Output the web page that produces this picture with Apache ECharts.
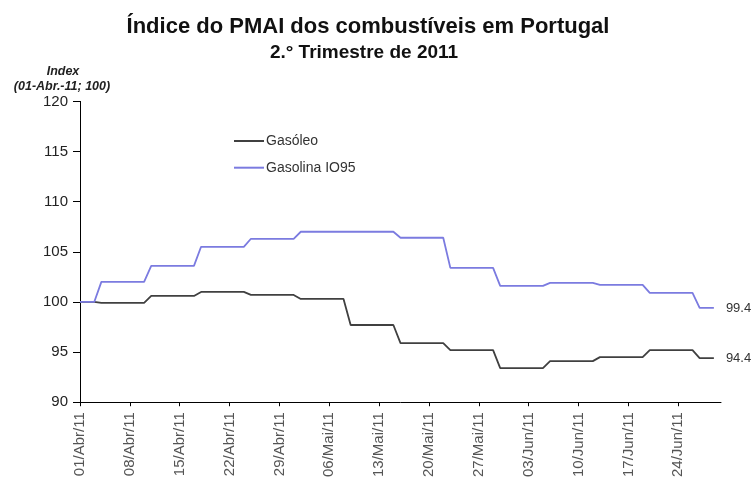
<!DOCTYPE html>
<html>
<head>
<meta charset="utf-8">
<script src="https://cdn.jsdelivr.net/npm/echarts@6/dist/echarts.min.js"></script>
<style>
html,body{margin:0;padding:0;background:#fff;}
#c{width:752px;height:480px;}
</style>
</head>
<body>
<div id="c"></div>
<script>
// Daily categories, 01/Abr/11 .. 30/Jun/11
const categories = [
 "01/Abr/11","02/Abr/11","03/Abr/11","04/Abr/11","05/Abr/11","06/Abr/11","07/Abr/11","08/Abr/11","09/Abr/11","10/Abr/11",
 "11/Abr/11","12/Abr/11","13/Abr/11","14/Abr/11","15/Abr/11","16/Abr/11","17/Abr/11","18/Abr/11","19/Abr/11","20/Abr/11",
 "21/Abr/11","22/Abr/11","23/Abr/11","24/Abr/11","25/Abr/11","26/Abr/11","27/Abr/11","28/Abr/11","29/Abr/11","30/Abr/11",
 "01/Mai/11","02/Mai/11","03/Mai/11","04/Mai/11","05/Mai/11","06/Mai/11","07/Mai/11","08/Mai/11","09/Mai/11","10/Mai/11",
 "11/Mai/11","12/Mai/11","13/Mai/11","14/Mai/11","15/Mai/11","16/Mai/11","17/Mai/11","18/Mai/11","19/Mai/11","20/Mai/11",
 "21/Mai/11","22/Mai/11","23/Mai/11","24/Mai/11","25/Mai/11","26/Mai/11","27/Mai/11","28/Mai/11","29/Mai/11","30/Mai/11",
 "31/Mai/11",
 "01/Jun/11","02/Jun/11","03/Jun/11","04/Jun/11","05/Jun/11","06/Jun/11","07/Jun/11","08/Jun/11","09/Jun/11","10/Jun/11",
 "11/Jun/11","12/Jun/11","13/Jun/11","14/Jun/11","15/Jun/11","16/Jun/11","17/Jun/11","18/Jun/11","19/Jun/11","20/Jun/11",
 "21/Jun/11","22/Jun/11","23/Jun/11","24/Jun/11","25/Jun/11","26/Jun/11","27/Jun/11","28/Jun/11","29/Jun/11","30/Jun/11"
];

// Gasóleo daily index (01/Abr .. 29/Jun)
const gasoleo = [
 100,100,100,
 99.9,99.9,99.9,99.9,99.9,99.9,99.9,
 100.6,100.6,100.6,100.6,100.6,100.6,100.6,
 101.0,101.0,101.0,101.0,101.0,101.0,101.0,
 100.7,100.7,100.7,100.7,100.7,100.7,100.7,
 100.3,100.3,100.3,100.3,100.3,100.3,100.3,
 97.7,97.7,97.7,97.7,97.7,97.7,97.7,
 95.9,95.9,95.9,95.9,95.9,95.9,95.9,
 95.2,95.2,95.2,95.2,95.2,95.2,95.2,
 93.4,93.4,93.4,93.4,93.4,93.4,93.4,
 94.1,94.1,94.1,94.1,94.1,94.1,94.1,
 94.5,94.5,94.5,94.5,94.5,94.5,94.5,
 95.2,95.2,95.2,95.2,95.2,95.2,95.2,
 94.4,94.4,94.4
];

// Gasolina IO95 daily index (01/Abr .. 29/Jun)
const gasolina = [
 100,100,100,
 102.0,102.0,102.0,102.0,102.0,102.0,102.0,
 103.6,103.6,103.6,103.6,103.6,103.6,103.6,
 105.5,105.5,105.5,105.5,105.5,105.5,105.5,
 106.3,106.3,106.3,106.3,106.3,106.3,106.3,
 107.0,107.0,107.0,107.0,107.0,107.0,107.0,
 107.0,107.0,107.0,107.0,107.0,107.0,107.0,
 106.4,106.4,106.4,106.4,106.4,106.4,106.4,
 103.4,103.4,103.4,103.4,103.4,103.4,103.4,
 101.6,101.6,101.6,101.6,101.6,101.6,101.6,
 101.9,101.9,101.9,101.9,101.9,101.9,101.9,
 101.7,101.7,101.7,101.7,101.7,101.7,101.7,
 100.9,100.9,100.9,100.9,100.9,100.9,100.9,
 99.4,99.4,99.4
];

const seriesNames = ["Gasóleo", "Gasolina IO95"];
const FONT = "'Liberation Sans', Arial, sans-serif";

const chart = echarts.init(document.getElementById('c'), null, {renderer: 'canvas'});
chart.setOption({
  animation: false,
  backgroundColor: '#ffffff',
  title: [
    {text: 'Índice do PMAI dos combustíveis em Portugal', left: 363, top: 11, textAlign: 'center',
     textStyle: {fontFamily: FONT, fontSize: 22, fontWeight: 'bold', color: '#111'}},
    {text: '2.° Trimestre de 2011', left: 359, top: 38, textAlign: 'center',
     textStyle: {fontFamily: FONT, fontSize: 19, fontWeight: 'bold', color: '#111'}},
    {text: 'Index', left: 58, top: 60, textAlign: 'center',
     textStyle: {fontFamily: FONT, fontSize: 12.5, fontWeight: 'bold', fontStyle: 'italic', color: '#222'}},
    {text: '(01-Abr.-11; 100)', left: 57, top: 75, textAlign: 'center',
     textStyle: {fontFamily: FONT, fontSize: 12.5, fontWeight: 'bold', fontStyle: 'italic', color: '#222'}}
  ],
  legend: {
    orient: 'vertical', left: 228, top: 129, itemWidth: 30, itemHeight: 14, itemGap: 12.7,
    itemStyle: {opacity: 0},
    textStyle: {fontFamily: FONT, fontSize: 14, color: '#333', padding: [0, 0, 0, -3]},
    data: seriesNames
  },
  grid: {left: 80, right: 31, top: 101.4, bottom: 76.6, containLabel: false},
  xAxis: {
    type: 'category', data: categories, boundaryGap: false,
    axisLine: {lineStyle: {color: '#000', width: 1}},
    axisTick: {show: true, interval: 6, length: 4, lineStyle: {color: '#000'}},
    axisLabel: {interval: 6, rotate: 90, margin: 10, fontFamily: FONT, fontSize: 15, color: '#555'},
    splitLine: {show: false}
  },
  yAxis: {
    type: 'value', min: 90, max: 120, interval: 5,
    axisLine: {show: true, lineStyle: {color: '#000', width: 1}},
    axisTick: {show: true, length: 7, lineStyle: {color: '#000'}},
    axisLabel: {margin: 12, fontFamily: FONT, fontSize: 15, color: '#222'},
    splitLine: {show: false}
  },
  series: [
    {name: seriesNames[0], type: 'line', data: gasoleo, symbol: 'none',
     lineStyle: {color: '#404040', width: 1.8}, itemStyle: {color: '#404040'},
     endLabel: {show: true, distance: 12, formatter: p => Number(p.value).toFixed(1),
       fontFamily: FONT, fontSize: 13, color: '#333'}},
    {name: seriesNames[1], type: 'line', data: gasolina, symbol: 'none',
     lineStyle: {color: '#7b7be0', width: 1.8}, itemStyle: {color: '#7b7be0'},
     endLabel: {show: true, distance: 12, formatter: p => Number(p.value).toFixed(1),
       fontFamily: FONT, fontSize: 13, color: '#333'}}
  ]
});
</script>
</body>
</html>
